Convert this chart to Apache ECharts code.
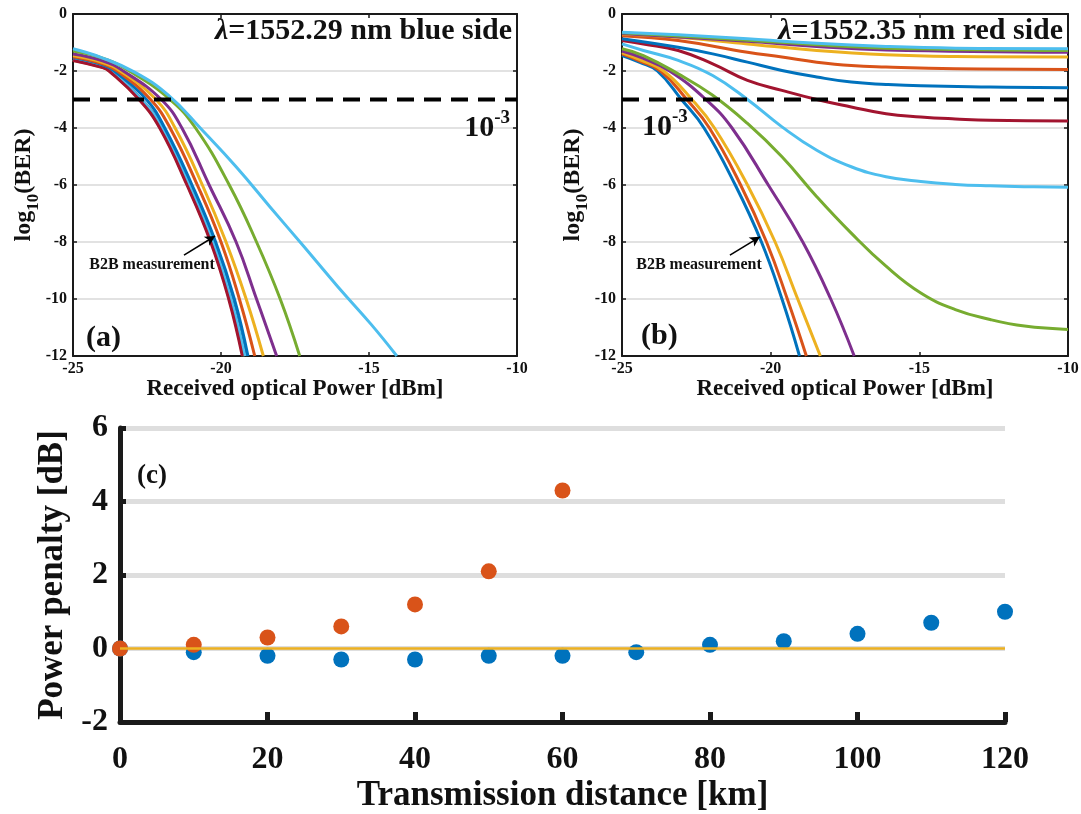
<!DOCTYPE html>
<html><head><meta charset="utf-8">
<script src="https://cdn.jsdelivr.net/npm/echarts@6/dist/echarts.min.js"></script>
<style>html,body{margin:0;padding:0;background:#fff}#c{width:1081px;height:814px}</style>
</head><body><div id="c"></div>
<script>
const FONT = "'Liberation Serif','Times New Roman',serif";
const matlabColors = ['#0072BD','#D95319','#EDB120','#7E2F8E','#77AC30','#4DBEEE','#A2142F'];

// ---- Panel (a): blue side, log10(BER) vs received power, one curve per distance ----
const blue0km   = [[-25,-1.58],[-24,-1.83],[-23.7,-2],[-22.68,-3],[-21.97,-4],[-21.05,-6],[-20.25,-8],[-19.64,-10],[-19.17,-12]];
const blue10km  = [[-25,-1.6],[-24,-1.85],[-23.72,-2],[-22.7,-3],[-22.0,-4],[-21.08,-6],[-20.28,-8],[-19.67,-10],[-19.2,-12]];
const blue20km  = [[-25,-1.62],[-24,-1.87],[-23.76,-2],[-22.75,-3],[-22.05,-4],[-21.13,-6],[-20.33,-8],[-19.72,-10],[-19.26,-12]];
const blue30km  = [[-25,-1.61],[-24,-1.86],[-23.74,-2],[-22.72,-3],[-22.02,-4],[-21.1,-6],[-20.3,-8],[-19.7,-10],[-19.23,-12]];
const blue40km  = [[-25,-1.6],[-24,-1.85],[-23.73,-2],[-22.71,-3],[-22.01,-4],[-21.09,-6],[-20.29,-8],[-19.69,-10],[-19.22,-12]];
const blue50km  = [[-25,-1.59],[-24,-1.84],[-23.71,-2],[-22.69,-3],[-21.99,-4],[-21.07,-6],[-20.27,-8],[-19.66,-10],[-19.19,-12]];
const blue60km  = [[-25,-1.63],[-24,-1.88],[-23.78,-2],[-22.77,-3],[-22.07,-4],[-21.15,-6],[-20.35,-8],[-19.74,-10],[-19.28,-12]];
const blue70km  = [[-25,-1.52],[-24,-1.78],[-23.6,-2],[-22.52,-3],[-21.9,-4],[-20.98,-6],[-20.18,-8],[-19.55,-10],[-19.09,-12]];
const blue80km  = [[-25,-1.5],[-24,-1.75],[-23.5,-2],[-22.38,-3],[-21.72,-4],[-20.8,-6],[-20.0,-8],[-19.38,-10],[-18.86,-12]];
const blue90km  = [[-25,-1.46],[-24,-1.7],[-23.4,-2],[-22.2,-3],[-21.55,-4],[-20.63,-6],[-19.83,-8],[-19.15,-10],[-18.57,-12]];
const blue100km = [[-25,-1.4],[-24,-1.64],[-23.3,-2],[-22.02,-3],[-21.32,-4],[-20.4,-6],[-19.49,-8],[-18.8,-10],[-18.12,-12]];
const blue110km = [[-25,-1.3],[-24,-1.55],[-23.1,-2],[-21.72,-3],[-20.86,-4],[-19.72,-6],[-18.8,-8],[-18.0,-10],[-17.34,-12]];
const blue120km = [[-25,-1.22],[-24.06,-1.52],[-22.92,-2.04],[-21.78,-2.85],[-20.63,-4.08],[-19.49,-5.36],[-18.35,-6.76],[-17.2,-8.16],[-16.06,-9.56],[-14.92,-10.9],[-14.06,-12]];

// ---- Panel (b): red side ----
const red0km   = [[-25,-1.46],[-24.4,-1.7],[-23.81,-2],[-23.0,-3],[-22.24,-4],[-21.19,-6],[-20.31,-8],[-19.62,-10],[-19.03,-12]];
const red10km  = [[-25,-1.4],[-24.4,-1.65],[-23.7,-2],[-22.82,-3],[-22.06,-4],[-21.01,-6],[-20.14,-8],[-19.44,-10],[-18.8,-12]];
const red20km  = [[-25,-1.35],[-24.4,-1.6],[-23.6,-2],[-22.65,-3],[-21.89,-4],[-20.78,-6],[-19.85,-8],[-19.09,-10],[-18.33,-12]];
const red30km  = [[-25,-1.3],[-24.3,-1.55],[-23.4,-2],[-22.18,-3],[-21.3,-4],[-20.08,-6],[-18.92,-8],[-17.98,-10],[-17.19,-12]];
const red40km  = [[-25,-1.22],[-24.28,-1.46],[-23.11,-2.1],[-21.95,-2.85],[-20.78,-3.84],[-19.62,-5.01],[-18.45,-6.41],[-17.29,-7.69],[-16.12,-8.85],[-14.95,-9.79],[-13.79,-10.37],[-12.62,-10.72],[-11.46,-10.95],[-10,-11.07]];
const red50km  = [[-25,-1.05],[-24.28,-1.28],[-23.11,-1.63],[-21.95,-2.16],[-20.78,-3.0],[-19.62,-3.96],[-18.45,-4.78],[-17.29,-5.36],[-16.12,-5.71],[-14.95,-5.88],[-13.79,-5.98],[-12.62,-6.03],[-11.46,-6.06],[-10,-6.08]];
const red60km  = [[-25,-0.93],[-24.28,-1.05],[-23.11,-1.28],[-21.95,-1.75],[-20.78,-2.33],[-19.62,-2.68],[-18.45,-3.0],[-17.29,-3.26],[-16.12,-3.5],[-14.95,-3.61],[-13.79,-3.68],[-12.62,-3.73],[-10,-3.75]];
const red70km  = [[-25,-0.87],[-23.11,-1.17],[-21.95,-1.4],[-20.78,-1.69],[-19.62,-1.98],[-18.45,-2.21],[-17.29,-2.39],[-16.12,-2.47],[-14.95,-2.52],[-12.62,-2.56],[-10,-2.59]];
const red80km  = [[-25,-0.76],[-23.11,-0.93],[-20.78,-1.34],[-19.62,-1.51],[-18.45,-1.69],[-17.29,-1.81],[-16.12,-1.86],[-13.79,-1.92],[-10,-1.95]];
const red90km  = [[-25,-0.7],[-23.11,-0.82],[-20.78,-1.05],[-18.45,-1.28],[-16.12,-1.43],[-13.79,-1.49],[-10,-1.51]];
const red100km = [[-25,-0.68],[-20.78,-0.96],[-18.45,-1.14],[-16.12,-1.26],[-10,-1.34]];
const red110km = [[-25,-0.66],[-20.78,-0.92],[-18.45,-1.08],[-16.12,-1.2],[-10,-1.28]];
const red120km = [[-25,-0.64],[-23.11,-0.73],[-20.78,-0.87],[-18.45,-1.03],[-16.12,-1.14],[-13.79,-1.2],[-10,-1.22]];

// FEC threshold (log10 BER = -3) and B2B arrows
const thresholdLine = [[-25,-3],[-10,-3]];
const arrowA = [[-21.25,-8.46],[-20.2,-7.79]];
const arrowB = [[-21.37,-8.46],[-20.36,-7.82]];

// ---- Panel (c): power penalty vs distance ----
const distances      = [0,10,20,30,40,50,60,70,80,90,100,110,120];
const penaltyBlue    = [0,-0.1,-0.2,-0.3,-0.3,-0.2,-0.2,-0.1,0.1,0.2,0.4,0.7,1.0];
const distancesRed   = [0,10,20,30,40,50,60];
const penaltyRed     = [0,0.1,0.3,0.6,1.2,2.1,4.3];
const zeroRef        = [[0,0],[120,0]];

const curvesA = [blue0km,blue10km,blue20km,blue30km,blue40km,blue50km,blue60km,blue70km,blue80km,blue90km,blue100km,blue110km,blue120km];
const curvesB = [red0km,red10km,red20km,red30km,red40km,red50km,red60km,red70km,red80km,red90km,red100km,red110km,red120km];

const TXT = '#111';
const AX = '#1a1a1a';

function berAxesX(gi, pos) {
  const main = pos === 'bottom';
  return {
    type:'value', gridIndex:gi, position:pos, min:-25, max:-10, interval:5,
    axisLine:{show:true, onZero:false, lineStyle:{color:AX, width:2}},
    axisTick:{show:true, inside:true, length:4, lineStyle:{color:AX, width:1.5}},
    axisLabel:{show:main, color:TXT, fontFamily:FONT, fontWeight:'bold', fontSize:16, margin:5},
    splitLine:{show:false},
    name: main ? 'Received optical Power [dBm]' : '',
    nameLocation:'middle', nameGap:22,
    nameTextStyle:{color:TXT, fontFamily:FONT, fontWeight:'bold', fontSize:23}
  };
}
function berAxesY(gi, pos) {
  const main = pos === 'left';
  return {
    type:'value', gridIndex:gi, position:pos, min:-12, max:0, interval:2,
    axisLine:{show:true, onZero:false, lineStyle:{color:AX, width:2}},
    axisTick:{show:true, inside:true, length:4, lineStyle:{color:AX, width:1.5}},
    axisLabel:{show:main, color:TXT, fontFamily:FONT, fontWeight:'bold', fontSize:16, margin:6},
    splitLine:{show:main, lineStyle:{color:'#e2e2e2', width:2}},
    name: main ? '{a|log}{s|10}{a|(BER)}' : '',
    nameLocation:'middle', nameGap:31, nameRotate:90,
    nameTextStyle:{
      color:TXT, fontFamily:FONT, fontWeight:'bold', fontSize:24,
      rich:{
        a:{color:TXT, fontFamily:FONT, fontWeight:'bold', fontSize:24, lineHeight:30, verticalAlign:'top'},
        s:{color:TXT, fontFamily:FONT, fontWeight:'bold', fontSize:17, lineHeight:17, verticalAlign:'bottom'}
      }
    }
  };
}

const series = [];
function addBerPanel(curves, xi, yi, arrow) {
  curves.forEach((d, i) => {
    series.push({
      type:'line', xAxisIndex:xi, yAxisIndex:yi, data:d, smooth:0.45,
      showSymbol:false, symbol:'none', silent:true, animation:false,
      lineStyle:{color:matlabColors[i % 7], width:3}, z:2+i*0.01
    });
  });
  series.push({
    type:'line', xAxisIndex:xi, yAxisIndex:yi, data:thresholdLine, showSymbol:false, symbol:'none',
    animation:false, silent:true,
    lineStyle:{color:'#000', width:4, type:[17,10]}, z:5,
    markLine:{
      silent:true, animation:false, symbol:['none','arrow'], symbolSize:[8,10],
      lineStyle:{color:'#000', width:1.6, type:'solid'}, label:{show:false},
      data:[[{coord:arrow[0]},{coord:arrow[1]}]]
    }
  });
}
addBerPanel(curvesA, 0, 0, arrowA);
addBerPanel(curvesB, 2, 2, arrowB);

series.push({
  type:'scatter', xAxisIndex:4, yAxisIndex:4, symbol:'circle', symbolSize:16,
  data: distances.map((d,i)=>[d, penaltyBlue[i]]), itemStyle:{color:'#0072BD', opacity:1}, animation:false, z:3
});
series.push({
  type:'scatter', xAxisIndex:4, yAxisIndex:4, symbol:'circle', symbolSize:16,
  data: distancesRed.map((d,i)=>[d, penaltyRed[i]]), itemStyle:{color:'#D95319', opacity:1}, animation:false, z:4
});
series.push({
  type:'line', xAxisIndex:4, yAxisIndex:4, data:zeroRef, showSymbol:false, symbol:'none',
  lineStyle:{color:'#EDB120', width:2.5}, animation:false, silent:true, z:5
});

function txt(x, y, text, size, align, extra) {
  return Object.assign({
    type:'text', x:x, y:y, silent:true, z:100,
    style:{
      text:text, fill:TXT, fontFamily:FONT, fontWeight:'bold', fontSize:size,
      align:align, textAlign:align, verticalAlign:'middle', textVerticalAlign:'middle'
    }
  }, extra||{});
}
function richTitle(x, y, rest) {
  return {
    type:'text', x:x, y:y, silent:true, z:100,
    style:{
      text:'{l|λ}{n|' + rest + '}',
      align:'right', textAlign:'right', verticalAlign:'middle', textVerticalAlign:'middle',
      rich:{
        l:{fill:TXT, color:TXT, fontFamily:FONT, fontWeight:'bold', fontStyle:'italic', fontSize:30},
        n:{fill:TXT, color:TXT, fontFamily:FONT, fontWeight:'bold', fontSize:30}
      }
    }
  };
}
function power(x, y, align) {
  return {
    type:'text', x:x, y:y, silent:true, z:100,
    style:{
      text:'{b|10}{s|-3}',
      align:align, textAlign:align, verticalAlign:'middle', textVerticalAlign:'middle',
      rich:{
        b:{fill:TXT, color:TXT, fontFamily:FONT, fontWeight:'bold', fontSize:30, lineHeight:34, verticalAlign:'bottom'},
        s:{fill:TXT, color:TXT, fontFamily:FONT, fontWeight:'bold', fontSize:19, lineHeight:19, verticalAlign:'top'}
      }
    }
  };
}

const option = {
  backgroundColor:'#fff',
  animation:false,
  grid:[
    {left:73, top:14, width:444, height:342, outerBoundsMode:'none', containLabel:false},
    {left:622, top:14, width:446, height:342, outerBoundsMode:'none', containLabel:false},
    {left:120, top:428, width:885, height:294, outerBoundsMode:'none', containLabel:false}
  ],
  xAxis:[
    berAxesX(0,'bottom'), berAxesX(0,'top'), berAxesX(1,'bottom'), berAxesX(1,'top'),
    {
      type:'value', gridIndex:2, position:'bottom', min:0, max:120, interval:20,
      axisLine:{show:true, onZero:false, lineStyle:{color:AX, width:5}},
      axisTick:{show:true, inside:true, length:10, lineStyle:{color:AX, width:5}},
      axisLabel:{color:TXT, fontFamily:FONT, fontWeight:'bold', fontSize:32, margin:22},
      splitLine:{show:false},
      name:'Transmission distance [km]', nameLocation:'middle', nameGap:56,
      nameTextStyle:{color:TXT, fontFamily:FONT, fontWeight:'bold', fontSize:35}
    }
  ],
  yAxis:[
    berAxesY(0,'left'), berAxesY(0,'right'), berAxesY(1,'left'), berAxesY(1,'right'),
    {
      type:'value', gridIndex:2, position:'left', min:-2, max:6, interval:2,
      axisLine:{show:true, onZero:false, lineStyle:{color:AX, width:5}},
      axisTick:{show:true, inside:true, length:6, lineStyle:{color:AX, width:5}},
      axisLabel:{color:TXT, fontFamily:FONT, fontWeight:'bold', fontSize:32, margin:12},
      splitLine:{show:true, lineStyle:{color:'#dedede', width:5}},
      name:'Power penalty [dB]', nameLocation:'middle', nameGap:48, nameRotate:90,
      nameTextStyle:{color:TXT, fontFamily:FONT, fontWeight:'bold', fontSize:35}
    }
  ],
  series: series,
  graphic:[
    richTitle(512, 31, '=1552.29 nm blue side'),
    richTitle(1063, 31, '=1552.35 nm red side'),
    power(510, 126, 'right'),
    power(642, 125, 'left'),
    txt(86, 338, '(a)', 30, 'left'),
    txt(641, 336, '(b)', 30, 'left'),
    txt(137, 476, '(c)', 27, 'left'),
    txt(152, 265, 'B2B measurement', 16, 'center'),
    txt(699, 265, 'B2B measurement', 16, 'center')
  ]
};

const chart = echarts.init(document.getElementById('c'), null, {renderer:'canvas'});
chart.setOption(option);
</script>
</body></html>
